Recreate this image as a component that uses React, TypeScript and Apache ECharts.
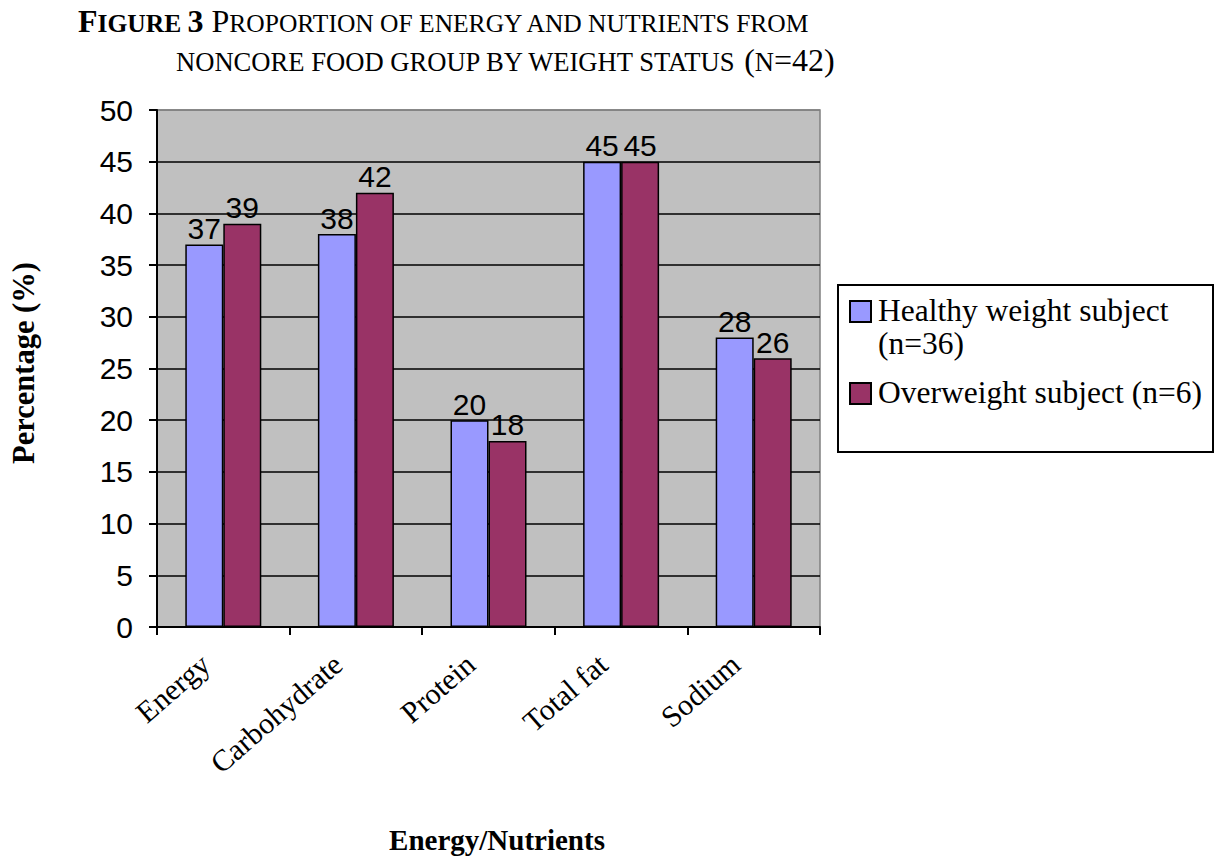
import React, { useEffect, useRef } from "react";
import * as echarts from "echarts";

const categories = ["Energy", "Carbohydrate", "Protein", "Total fat", "Sodium"];
const healthyValues = [37, 38, 20, 45, 28];
const overweightValues = [39, 42, 18, 45, 26];
const seriesNames = ["Healthy weight subject (n=36)", "Overweight subject (n=6)"];
const legendTexts = ["Healthy weight subject\n(n=36)", "Overweight subject (n=6)"];
const yMin = 0;
const yMax = 50;
const yStep = 5;
const titleLine1 = "{B|F}{b|IGURE }{B|3 }{C|P}{c|ROPORTION OF ENERGY AND NUTRIENTS FROM}";
const titleLine2 = "{c|NONCORE FOOD GROUP BY WEIGHT STATUS }{C|(}{c|N}{C|=42)}";
const xAxisTitle = "Energy/Nutrients";
const yAxisTitle = "Percentage (%)";

const COLORS = ["#9999FF", "#993366"];
const SERIF = "'Liberation Serif', 'Times New Roman', serif";
const SANS = "'Liberation Sans', Arial, sans-serif";

export default function App() {
  const ref = useRef<HTMLDivElement>(null);
  useEffect(() => {
    if (!ref.current) return;
    const chart = echarts.init(ref.current, null, { renderer: "svg" });
    const nLines = (yMax - yMin) / yStep + 1;
    const splitColors = Array.from({ length: nLines }, (_, i) => (i === nLines - 1 ? "#808080" : "#000000"));
    const labelCfg = {
      show: true,
      position: "top" as const,
      distance: 1,
      color: "#000",
      fontFamily: SANS,
      fontSize: 30,
    };
    const capBig = 32;
    const capSmall = 25.5;
    const capSmall2 = 26.6;
    const option: any = {
      animation: false,
      backgroundColor: "#ffffff",
      grid: {
        left: 157,
        right: 1217 - 820,
        top: 110,
        bottom: 856 - 627,
        show: true,
        backgroundColor: "#C0C0C0",
        borderColor: "#808080",
        borderWidth: 1.5,
      },
      xAxis: {
        type: "category",
        data: categories,
        boundaryGap: true,
        axisLine: { show: true, lineStyle: { color: "#000", width: 2 } },
        axisTick: { show: true, alignWithLabel: false, interval: 0, length: 8, lineStyle: { color: "#000", width: 2 } },
        axisLabel: {
          interval: 0,
          rotate: 41,
          margin: 17,
          padding: [0, 24, 0, 0],
          color: "#000",
          fontFamily: SERIF,
          fontSize: 30,
        },
        splitLine: { show: false },
      },
      yAxis: {
        type: "value",
        min: yMin,
        max: yMax,
        interval: yStep,
        axisLine: { show: true, lineStyle: { color: "#000", width: 2 } },
        axisTick: { show: true, length: 8, lineStyle: { color: "#000", width: 2 } },
        axisLabel: { margin: 24, color: "#000", fontFamily: SANS, fontSize: 30 },
        splitLine: { show: true, lineStyle: { color: splitColors, width: 1.5 } },
      },
      series: [
        {
          name: seriesNames[0],
          type: "bar",
          data: healthyValues,
          barWidth: 38,
          barGap: "0%",
          itemStyle: { color: COLORS[0], borderColor: "#000", borderWidth: 1.5 },
          label: labelCfg,
        },
        {
          name: seriesNames[1],
          type: "bar",
          data: overweightValues,
          barWidth: 38,
          barGap: "0%",
          itemStyle: { color: COLORS[1], borderColor: "#000", borderWidth: 1.5 },
          label: labelCfg,
        },
      ],
      graphic: [
        {
          type: "text",
          left: 78,
          top: 4.5,
          style: {
            text: titleLine1,
            fill: "#000",
            rich: {
              B: { fontFamily: SERIF, fontWeight: "bold", fontSize: capBig, lineHeight: capBig, verticalAlign: "bottom" },
              b: { fontFamily: SERIF, fontWeight: "bold", fontSize: capSmall, lineHeight: capSmall, verticalAlign: "bottom" },
              C: { fontFamily: SERIF, fontSize: capBig, lineHeight: capBig, verticalAlign: "bottom" },
              c: { fontFamily: SERIF, fontSize: capSmall, lineHeight: capSmall, verticalAlign: "bottom" },
            },
          },
        },
        {
          type: "text",
          left: 176,
          top: 43.5,
          style: {
            text: titleLine2,
            fill: "#000",
            rich: {
              C: { fontFamily: SERIF, fontSize: capBig, lineHeight: capBig, verticalAlign: "bottom" },
              c: { fontFamily: SERIF, fontSize: capSmall2, lineHeight: capSmall2, verticalAlign: "bottom" },
            },
          },
        },
        {
          type: "text",
          x: 24,
          y: 363,
          rotation: Math.PI / 2,
          style: {
            text: yAxisTitle,
            fill: "#000",
            fontFamily: SERIF,
            fontWeight: "bold",
            fontSize: 30.5,
            align: "center",
            verticalAlign: "middle",
          },
        },
        {
          type: "text",
          x: 497,
          y: 840,
          style: {
            text: xAxisTitle,
            fill: "#000",
            fontFamily: SERIF,
            fontWeight: "bold",
            fontSize: 29,
            align: "center",
            verticalAlign: "middle",
          },
        },
        {
          type: "rect",
          shape: { x: 838, y: 285, width: 375, height: 167 },
          style: { fill: "#ffffff", stroke: "#000", lineWidth: 2 },
        },
        {
          type: "rect",
          shape: { x: 850, y: 301, width: 21, height: 21 },
          style: { fill: COLORS[0], stroke: "#000", lineWidth: 2 },
        },
        {
          type: "text",
          x: 878,
          y: 294,
          style: {
            text: legendTexts[0],
            fill: "#000",
            fontFamily: SERIF,
            fontSize: 31.5,
            lineHeight: 33,
            align: "left",
            verticalAlign: "top",
          },
        },
        {
          type: "rect",
          shape: { x: 850, y: 383, width: 21, height: 21 },
          style: { fill: COLORS[1], stroke: "#000", lineWidth: 2 },
        },
        {
          type: "text",
          x: 878,
          y: 376,
          style: {
            text: legendTexts[1],
            fill: "#000",
            fontFamily: SERIF,
            fontSize: 31.5,
            lineHeight: 33,
            align: "left",
            verticalAlign: "top",
          },
        },
      ],
    };
    chart.setOption(option);
    return () => chart.dispose();
  }, []);
  return (
    <div
      ref={ref}
      style={{ position: "absolute", left: 0, top: 0, width: 1217, height: 856, background: "#fff" }}
    />
  );
}
